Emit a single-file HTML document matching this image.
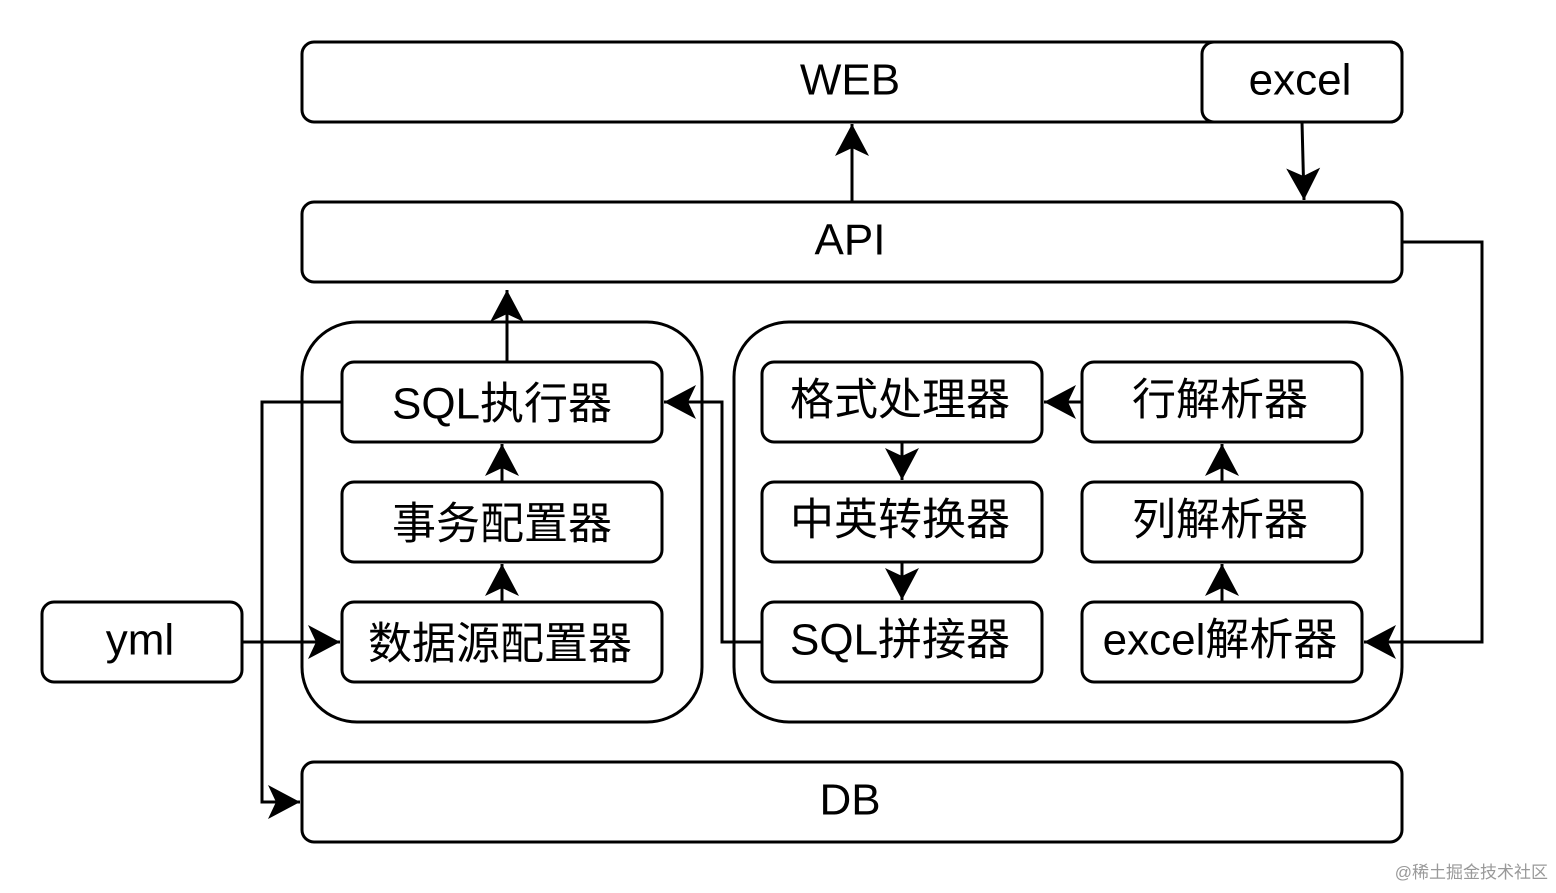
<!DOCTYPE html>
<html><head><meta charset="utf-8"><style>
html,body{margin:0;padding:0;background:#fff;}
svg text{font-family:"Liberation Sans","Noto Sans CJK SC",sans-serif;fill:#000;}
</style></head><body>
<svg width="1556" height="888" viewBox="0 0 1556 888" xmlns="http://www.w3.org/2000/svg">
<defs>
<marker id="a" markerUnits="userSpaceOnUse" markerWidth="34" markerHeight="36" viewBox="0 0 34 36" refX="32" refY="18" orient="auto">
<path d="M0,1 L32,18 L0,35 L8,18 Z" fill="#000"/>
</marker>
</defs>
<g fill="none" stroke="#000" stroke-width="3">
<rect x="302" y="42" width="1100" height="80" rx="12"/>
<rect x="1202" y="42" width="200" height="80" rx="12" fill="#fff"/>
<rect x="302" y="202" width="1100" height="80" rx="12"/>
<rect x="302" y="322" width="400" height="400" rx="55"/>
<rect x="734" y="322" width="668" height="400" rx="55"/>
<rect x="342" y="362" width="320" height="80" rx="12"/>
<rect x="342" y="482" width="320" height="80" rx="12"/>
<rect x="342" y="602" width="320" height="80" rx="12"/>
<rect x="762" y="362" width="280" height="80" rx="12"/>
<rect x="762" y="482" width="280" height="80" rx="12"/>
<rect x="762" y="602" width="280" height="80" rx="12"/>
<rect x="1082" y="362" width="280" height="80" rx="12"/>
<rect x="1082" y="482" width="280" height="80" rx="12"/>
<rect x="1082" y="602" width="280" height="80" rx="12"/>
<rect x="42" y="602" width="200" height="80" rx="12"/>
<rect x="302" y="762" width="1100" height="80" rx="12"/>

<path d="M852,202 L852,124" marker-end="url(#a)"/>
<path d="M1302,122 L1304,200" marker-end="url(#a)"/>
<path d="M507,362 L507,290" marker-end="url(#a)"/>
<path d="M502,482 L502,444" marker-end="url(#a)"/>
<path d="M502,602 L502,564" marker-end="url(#a)"/>
<path d="M242,642 L340,642" marker-end="url(#a)"/>
<path d="M342,402 L262,402 L262,802 L300,802" marker-end="url(#a)"/>
<path d="M762,642 L722,642 L722,402 L664,402" marker-end="url(#a)"/>
<path d="M902,442 L902,480" marker-end="url(#a)"/>
<path d="M902,562 L902,600" marker-end="url(#a)"/>
<path d="M1082,402 L1044,402" marker-end="url(#a)"/>
<path d="M1222,482 L1222,444" marker-end="url(#a)"/>
<path d="M1222,602 L1222,564" marker-end="url(#a)"/>
<path d="M1402,242 L1482,242 L1482,642 L1364,642" marker-end="url(#a)"/>
</g>
<g font-size="44" text-anchor="middle" dominant-baseline="central">
<text x="850" y="80">WEB</text>
<text x="1300" y="80">excel</text>
<text x="850" y="240">API</text>
<text x="502" y="404">SQL执行器</text>
<text x="502" y="524">事务配置器</text>
<text x="500" y="644">数据源配置器</text>
<text x="900" y="400">格式处理器</text>
<text x="900" y="520">中英转换器</text>
<text x="900" y="640">SQL拼接器</text>
<text x="1220" y="400">行解析器</text>
<text x="1220" y="520">列解析器</text>
<text x="1220" y="640">excel解析器</text>
<text x="140" y="640">yml</text>
<text x="850" y="800">DB</text>
</g>
<text x="1548" y="878" font-size="17" text-anchor="end" style="fill:#999">@稀土掘金技术社区</text>
</svg>
</body></html>
